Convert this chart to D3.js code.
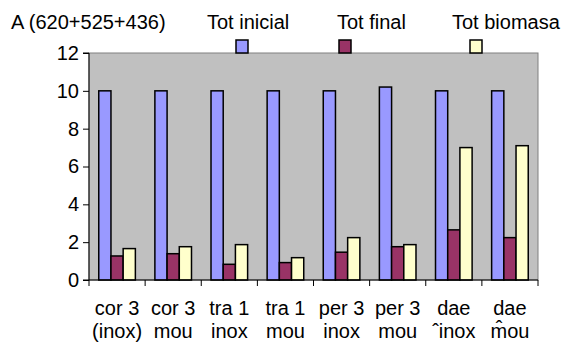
<!DOCTYPE html>
<html>
<head>
<meta charset="utf-8">
<script src="https://cdn.jsdelivr.net/npm/d3@7/dist/d3.min.js"></script>
<style>
  html, body { margin: 0; padding: 0; background: #fff; }
  svg { display: block; }
  text { font-family: "Liberation Sans", Arial, sans-serif; fill: #000; }
</style>
</head>
<body>
<svg id="chart" width="564" height="344"></svg>
<script>
// Category labels (two lines each)
const categoryLine1 = ["cor 3", "cor 3", "tra 1", "tra 1", "per 3", "per 3", "dae", "dae"];
const categoryLine2 = ["(inox)", "mou", "inox", "mou", "inox", "mou", "\u02C6inox", "m\u0302ou"];

// Series
const seriesNames = ["Tot inicial", "Tot final", "Tot biomasa"];
const seriesColors = ["#9999FF", "#993366", "#FFFFCC"];
const totInicial = [10, 10, 10, 10, 10, 10.2, 10, 10];
const totFinal = [1.27, 1.39, 0.83, 0.92, 1.47, 1.76, 2.65, 2.24];
const totBiomasa = [1.66, 1.76, 1.87, 1.18, 2.24, 1.87, 7.0, 7.1];

const yTicks = [0, 2, 4, 6, 8, 10, 12];
const title = "A (620+525+436)";

const seriesValues = [totInicial, totFinal, totBiomasa];
const categories = categoryLine1.map((d, i) => i);

const svg = d3.select("#chart");
const fontSize = 20;

const plot = { left: 89, right: 538, top: 53, bottom: 280 };

const x0 = d3.scaleBand().domain(categories).range([plot.left, plot.right]).padding(0);
const x1 = d3.scaleBand().domain(d3.range(seriesNames.length))
  .range([0, x0.bandwidth()]).paddingInner(0).paddingOuter(0.8);
const y = d3.scaleLinear().domain([0, 12]).range([plot.bottom, plot.top]);

// Plot area
svg.append("rect")
  .attr("x", plot.left).attr("y", plot.top)
  .attr("width", plot.right - plot.left).attr("height", plot.bottom - plot.top)
  .attr("fill", "#C0C0C0").attr("stroke", "#808080").attr("stroke-width", 1);

// Bars
const groups = svg.append("g").selectAll("g")
  .data(categories).join("g")
  .attr("transform", d => `translate(${x0(d)},0)`);

groups.selectAll("rect")
  .data(c => seriesValues.map((vals, s) => ({ s, v: vals[c] })))
  .join("rect")
  .attr("x", d => x1(d.s))
  .attr("y", d => y(d.v))
  .attr("width", x1.bandwidth())
  .attr("height", d => y(0) - y(d.v))
  .attr("fill", d => seriesColors[d.s])
  .attr("stroke", "#000")
  .attr("stroke-width", 1.5);

// Y axis
const yAxis = svg.append("g").attr("transform", `translate(${plot.left},0)`)
  .call(d3.axisLeft(y).tickValues(yTicks).tickSize(6).tickPadding(4).tickFormat(d3.format("d")));
yAxis.select(".domain").attr("stroke", "#000").attr("d", `M-6,${plot.top}H0V${plot.bottom}H-6`);
yAxis.selectAll(".tick line").attr("stroke", "#000");
yAxis.selectAll(".tick text").attr("font-size", fontSize).attr("font-family", "Liberation Sans, Arial, sans-serif").attr("fill", "#000");

// X axis baseline and category boundary ticks
const xg = svg.append("g");
xg.append("line")
  .attr("x1", plot.left).attr("x2", plot.right)
  .attr("y1", y(0)).attr("y2", y(0))
  .attr("stroke", "#000").attr("stroke-width", 1);
const boundaries = categories.map(c => x0(c)).concat([plot.right]);
xg.selectAll("line.b").data(boundaries).join("line")
  .attr("class", "b")
  .attr("x1", d => d).attr("x2", d => d)
  .attr("y1", y(0)).attr("y2", y(0) + 6)
  .attr("stroke", "#000").attr("stroke-width", 1);

// Category labels
const labels = svg.append("g").selectAll("text")
  .data(categories).join("text")
  .attr("text-anchor", "middle")
  .attr("font-size", fontSize)
  .attr("x", c => x0(c) + x0.bandwidth() / 2);
labels.append("tspan")
  .attr("x", c => x0(c) + x0.bandwidth() / 2)
  .attr("y", 315)
  .text(c => categoryLine1[c]);
labels.append("tspan")
  .attr("x", c => x0(c) + x0.bandwidth() / 2)
  .attr("y", 338)
  .text(c => categoryLine2[c]);

// Title
svg.append("text")
  .attr("x", 11).attr("y", 29)
  .attr("font-size", fontSize)
  .text(title);

// Legend: names above, swatches below
const legendTextX = [207, 337, 452];
const legendSwatchX = [236, 339, 470];
const legend = svg.append("g");
legend.selectAll("text").data(seriesNames).join("text")
  .attr("x", (d, i) => legendTextX[i]).attr("y", 29)
  .attr("font-size", fontSize)
  .text(d => d);
legend.selectAll("rect").data(seriesNames).join("rect")
  .attr("x", (d, i) => legendSwatchX[i]).attr("y", 40)
  .attr("width", 12).attr("height", 13)
  .attr("fill", (d, i) => seriesColors[i])
  .attr("stroke", "#000").attr("stroke-width", 1.5);
</script>
</body>
</html>
